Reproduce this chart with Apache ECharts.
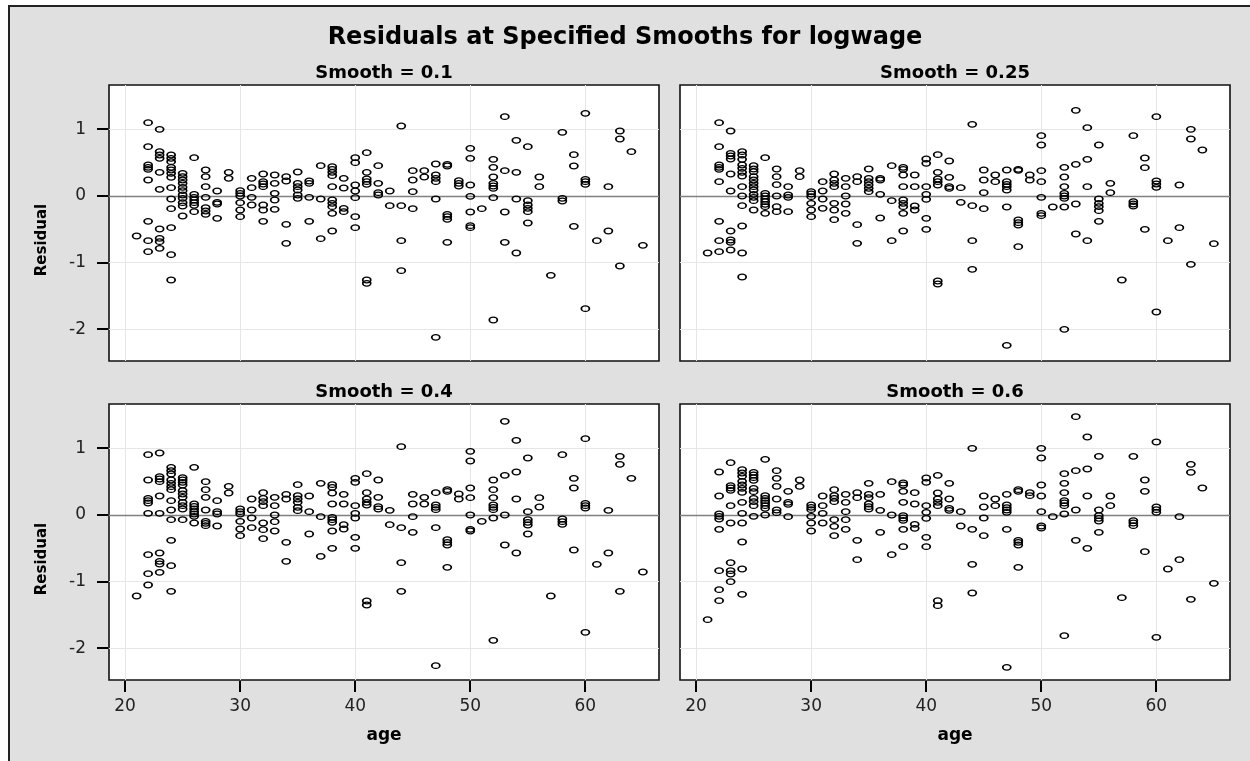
<!DOCTYPE html>
<html>
<head>
<meta charset="utf-8">
<script src="https://cdn.jsdelivr.net/npm/echarts@6/dist/echarts.min.js"></script>
<style>
html,body{margin:0;padding:0;background:#fff;overflow:hidden;}
#bg{position:absolute;left:8px;top:5px;width:1242px;height:756px;background:#e0e0e0;border-left:2px solid #222;border-top:2px solid #222;box-sizing:border-box;}
#chart{position:absolute;left:0;top:0;width:1250px;height:761px;z-index:2;}
</style>
</head>
<body>
<div id="bg"></div>
<div id="chart"></div>
<script>
const ages = [21,22,23,24,25,26,27,28,29,30,31,32,33,34,35,36,37,38,39,40,41,42,43,44,45,46,47,48,49,50,51,52,53,54,55,56,57,58,59,60,61,62,63,64,65];
const xTicks = [20, 30, 40, 50, 60];
const yTicks = [-2, -1, 0, 1];
const panelTitles = ['Smooth = 0.1', 'Smooth = 0.25', 'Smooth = 0.4', 'Smooth = 0.6'];

const res_s010 = [
[-0.60],
[1.10,0.74,0.465,0.43,0.40,0.24,-0.38,-0.67,-0.835],
[1.00,0.665,0.615,0.565,0.355,0.10,-0.495,-0.635,-0.685,-0.785],
[0.615,0.565,0.515,0.43,0.39,0.34,0.28,0.125,-0.045,-0.19,-0.475,-0.88,-1.26],
[0.34,0.29,0.24,0.19,0.13,0.08,0.015,-0.035,-0.10,-0.15,-0.30],
[0.575,0.025,-0.02,-0.06,-0.10,-0.14,-0.235],
[0.39,0.29,0.14,-0.02,-0.175,-0.225,-0.275],
[0.075,-0.095,-0.12,-0.335],
[0.355,0.265],
[0.08,0.04,0.0,-0.10,-0.21,-0.31],
[0.265,0.125,-0.02,-0.135],
[0.33,0.215,0.18,0.14,-0.135,-0.21,-0.38],
[0.315,0.19,0.04,-0.06,-0.20],
[0.29,0.225,-0.425,-0.71],
[0.36,0.19,0.14,0.09,0.015,-0.035],
[0.225,0.19,-0.02,-0.38],
[0.455,-0.045,-0.64],
[0.44,0.40,0.355,0.305,0.14,-0.06,-0.11,-0.16,-0.26,-0.525],
[0.265,0.12,-0.185,-0.235],
[0.575,0.50,0.165,0.075,-0.025,-0.31,-0.475],
[0.65,0.355,0.255,0.215,0.175,-1.26,-1.31],
[0.455,0.19,0.05,0.015],
[0.075,-0.145],
[1.05,-0.145,-0.67,-1.12],
[0.38,0.24,0.065,-0.19],
[0.38,0.285],
[0.48,0.315,0.265,0.215,-0.045,-2.12],
[0.475,0.45,-0.275,-0.31,-0.35,-0.695],
[0.23,0.19,0.15],
[0.715,0.565,0.165,-0.005,-0.24,-0.445,-0.475],
[-0.19],
[0.55,0.43,0.285,0.19,0.15,0.115,-0.025,-1.86],
[1.19,0.38,-0.24,-0.695],
[0.835,0.355,-0.045,-0.855],
[0.74,-0.07,-0.135,-0.185,-0.235,-0.405],
[0.285,0.14],
[-1.19],
[0.955,-0.035,-0.075],
[0.62,0.45,-0.455],
[1.24,0.25,0.215,0.175,-1.69],
[-0.67],
[0.14,-0.525],
[0.975,0.855,-1.05],
[0.665],
[-0.74]
];

const res_s025 = [
[-0.855],
[1.10,0.74,0.465,0.43,0.40,0.215,-0.38,-0.67,-0.835],
[0.975,0.64,0.60,0.555,0.33,0.075,-0.525,-0.66,-0.695,-0.81],
[0.665,0.615,0.55,0.465,0.415,0.355,0.30,0.14,0.0,-0.145,-0.45,-0.855,-1.215],
[0.455,0.405,0.365,0.29,0.24,0.19,0.14,0.09,0.025,-0.02,-0.07,-0.21],
[0.575,0.04,0.0,-0.045,-0.085,-0.125,-0.16,-0.26],
[0.405,0.29,0.17,0.0,-0.16,-0.235],
[0.14,0.015,-0.02,-0.235],
[0.38,0.29],
[0.065,0.03,-0.01,-0.11,-0.21,-0.31],
[0.215,0.075,-0.045,-0.185],
[0.33,0.24,0.19,0.14,-0.11,-0.21,-0.355],
[0.265,0.14,0.0,-0.12,-0.26],
[0.29,0.215,-0.43,-0.71],
[0.405,0.265,0.215,0.165,0.115,0.065],
[0.265,0.24,0.025,-0.33],
[0.455,-0.07,-0.67],
[0.43,0.40,0.315,0.14,-0.06,-0.11,-0.16,-0.26,-0.525],
[0.315,0.14,-0.15,-0.21],
[0.555,0.49,0.14,0.025,-0.05,-0.335,-0.50],
[0.62,0.355,0.255,0.215,0.165,-1.275,-1.32],
[0.525,0.28,0.14,0.115],
[0.125,-0.095],
[1.075,-0.145,-0.67,-1.10],
[0.39,0.24,0.05,-0.19],
[0.315,0.215],
[0.39,0.215,0.175,0.14,0.09,-0.165,-2.24],
[0.40,0.385,-0.36,-0.40,-0.435,-0.76],
[0.315,0.24],
[0.905,0.765,0.38,0.215,-0.02,-0.26,-0.295],
[-0.165],
[0.43,0.285,0.14,0.04,0.0,-0.035,-0.165,-2.0],
[1.285,0.475,-0.12,-0.57],
[1.025,0.55,0.14,-0.67],
[0.765,-0.045,-0.11,-0.16,-0.22,-0.38],
[0.19,0.05],
[-1.26],
[0.905,-0.085,-0.12,-0.15],
[0.57,0.425,-0.50],
[1.19,0.225,0.18,0.13,-1.74],
[-0.67],
[0.165,-0.475],
[1.0,0.855,-1.025],
[0.69],
[-0.715]
];

const res_s040 = [
[-1.215],
[0.905,0.525,0.25,0.215,0.18,0.025,-0.595,-0.88,-1.05],
[0.93,0.575,0.54,0.50,0.285,0.025,-0.57,-0.695,-0.735,-0.86],
[0.715,0.665,0.615,0.525,0.475,0.425,0.38,0.215,0.075,-0.07,-0.38,-0.76,-1.145],
[0.56,0.525,0.49,0.45,0.365,0.315,0.265,0.19,0.14,0.09,-0.07],
[0.715,0.165,0.13,0.09,0.05,0.015,-0.02,-0.12],
[0.50,0.38,0.265,0.075,-0.095,-0.125,-0.16],
[0.215,0.05,0.015,-0.165],
[0.43,0.33],
[0.09,0.05,0.015,-0.095,-0.21,-0.31],
[0.24,0.075,-0.045,-0.19],
[0.335,0.25,0.20,0.14,-0.12,-0.22,-0.355],
[0.265,0.14,0.0,-0.10,-0.24],
[0.31,0.24,-0.41,-0.695],
[0.455,0.29,0.24,0.19,0.115,0.065],
[0.285,0.05,-0.285],
[0.475,-0.025,-0.62],
[0.455,0.415,0.33,0.165,-0.035,-0.07,-0.11,-0.24,-0.50],
[0.31,0.165,-0.145,-0.21],
[0.55,0.49,0.14,0.025,-0.045,-0.335,-0.50],
[0.62,0.335,0.24,0.19,0.15,-1.29,-1.35],
[0.525,0.265,0.125,0.09],
[0.07,-0.145],
[1.025,-0.19,-0.715,-1.145],
[0.31,0.165,-0.025,-0.26],
[0.265,0.165],
[0.335,0.15,0.115,0.08,-0.19,-2.26],
[0.38,0.355,-0.37,-0.41,-0.45,-0.785],
[0.315,0.24],
[0.955,0.81,0.405,0.26,0.0,-0.215,-0.24],
[-0.095],
[0.525,0.38,0.26,0.15,0.115,0.08,-0.045,-1.88],
[1.405,0.595,0.0,-0.45],
[1.12,0.645,0.24,-0.57],
[0.855,0.05,-0.07,-0.11,-0.15,-0.285],
[0.26,0.12],
[-1.215],
[0.905,-0.06,-0.10,-0.14],
[0.55,0.405,-0.525],
[1.145,0.175,0.14,0.105,-1.76],
[-0.74],
[0.07,-0.57],
[0.88,0.76,-1.145],
[0.55],
[-0.855]
];

const res_s060 = [
[-1.57],
[0.645,0.285,0.015,-0.02,-0.06,-0.215,-0.835,-1.12,-1.285],
[0.785,0.44,0.405,0.37,0.14,-0.12,-0.715,-0.835,-0.885,-1.0],
[0.68,0.63,0.58,0.505,0.45,0.40,0.34,0.19,0.025,-0.12,-0.405,-0.81,-1.19],
[0.64,0.60,0.56,0.52,0.40,0.35,0.25,0.20,0.14,-0.02],
[0.835,0.29,0.25,0.215,0.18,0.14,0.10,0.0],
[0.665,0.55,0.43,0.24,0.075,0.035],
[0.355,0.19,0.16,-0.025],
[0.525,0.43],
[0.15,0.115,0.08,-0.02,-0.12,-0.24],
[0.285,0.14,0.025,-0.12],
[0.38,0.29,0.25,0.20,-0.07,-0.17,-0.31],
[0.31,0.19,0.05,-0.07,-0.215],
[0.335,0.26,-0.38,-0.67],
[0.475,0.31,0.26,0.165,0.125,0.09],
[0.31,0.07,-0.26],
[0.50,0.0,-0.595],
[0.48,0.45,0.355,0.19,-0.01,-0.045,-0.08,-0.215,-0.475],
[0.335,0.165,-0.14,-0.20],
[0.555,0.49,0.14,0.04,-0.05,-0.335,-0.475],
[0.595,0.33,0.24,0.19,0.14,-1.285,-1.36],
[0.475,0.24,0.10,0.07],
[0.05,-0.165],
[1.0,-0.215,-0.74,-1.17],
[0.285,0.12,-0.045,-0.31],
[0.24,0.14],
[0.31,0.15,0.11,0.075,0.04,-0.215,-2.285],
[0.38,0.355,-0.38,-0.41,-0.45,-0.785],
[0.335,0.29],
[1.0,0.855,0.45,0.285,0.05,-0.165,-0.195],
[-0.025],
[0.62,0.475,0.335,0.215,0.18,0.14,0.015,-1.81],
[1.475,0.665,0.075,-0.38],
[1.17,0.69,0.285,-0.50],
[0.88,0.075,-0.01,-0.05,-0.09,-0.26],
[0.285,0.14],
[-1.24],
[0.88,-0.085,-0.12,-0.16],
[0.525,0.355,-0.55],
[1.095,0.12,0.08,0.04,-1.835],
[-0.81],
[-0.025,-0.67],
[0.76,0.64,-1.265],
[0.405],
[-1.025]
];

const panels = [res_s010, res_s025, res_s040, res_s060];
const X_MIN = 18.6, X_MAX = 66.4, Y_MIN = -2.475, Y_MAX = 1.665;

function toPoints(res) {
  const pts = [];
  res.forEach((vals, i) => vals.forEach(v => pts.push([ages[i], v])));
  return pts;
}

const gridPos = [
  {left: 109, top: 85},
  {left: 680, top: 85},
  {left: 109, top: 404},
  {left: 680, top: 404}
];
const FONT = '"DejaVu Sans", sans-serif';
const TICK_LEN = 11;

function label(text, x, y, size, rot) {
  return {type: 'text', x: x, y: y, rotation: rot || 0, z: 100,
    style: {text: text, font: 'bold ' + size + 'px ' + FONT, fill: '#000', textAlign: 'center', textVerticalAlign: 'middle'}};
}

function gridLines() {
  return {
    silent: true, symbol: ['none', 'none'], label: {show: false}, z: 1,
    lineStyle: {color: '#e6e6e6', width: 1, type: 'solid'},
    data: xTicks.map(v => ({xAxis: v})).concat(yTicks.filter(v => v !== 0).map(v => ({yAxis: v})))
  };
}

const series = [];
panels.forEach((res, i) => {
  series.push({type: 'line', xAxisIndex: i, yAxisIndex: i, data: [], silent: true, z: 1, markLine: gridLines()});
});
panels.forEach((res, i) => {
  series.push({
    type: 'scatter', xAxisIndex: i, yAxisIndex: i, z: 5,
    data: toPoints(res),
    symbol: 'circle', symbolSize: [8, 5.6],
    itemStyle: {color: 'rgba(0,0,0,0)', borderColor: '#000', borderWidth: 1.5, opacity: 1},
    emphasis: {disabled: true},
    markLine: {
      silent: true, symbol: ['none', 'none'], label: {show: false},
      lineStyle: {color: '#808080', width: 1.3, type: 'solid'},
      data: [{yAxis: 0}]
    }
  });
});

const baseGraphic = [
  label('Residuals at Specified Smooths for logwage', 625, 38, 24),
  label(panelTitles[0], 384, 73, 18),
  label(panelTitles[1], 955, 73, 18),
  label(panelTitles[2], 384, 392, 18),
  label(panelTitles[3], 955, 392, 18),
  label('Residual', 42, 240, 15, Math.PI / 2),
  label('Residual', 42, 559, 15, Math.PI / 2)
];

const option = {
  animation: false,
  backgroundColor: 'transparent',
  graphic: baseGraphic,
  grid: gridPos.map(g => ({
    left: g.left, top: g.top, width: 550, height: 276,
    show: true, backgroundColor: '#fff', borderColor: '#111', borderWidth: 1.6
  })),
  xAxis: gridPos.map((g, i) => {
    const bottom = i >= 2;
    return {
      type: 'value', gridIndex: i, min: X_MIN, max: X_MAX, position: 'bottom',
      name: bottom ? 'age' : '', nameLocation: 'middle', nameGap: 47,
      nameTextStyle: {fontFamily: FONT, fontWeight: 'bold', fontSize: 17, color: '#000'},
      axisLine: {show: false, onZero: false},
      axisTick: {show: false},
      axisLabel: {show: bottom, customValues: xTicks, margin: 18, fontFamily: FONT, fontSize: 17, color: '#222'},
      splitLine: {show: false}
    };
  }),
  yAxis: gridPos.map((g, i) => {
    const left = i % 2 === 0;
    return {
      type: 'value', gridIndex: i, min: Y_MIN, max: Y_MAX, position: 'left',
      axisLine: {show: false, onZero: false},
      axisTick: {show: false},
      axisLabel: {show: left, customValues: yTicks, margin: 23, fontFamily: FONT, fontSize: 17, color: '#222'},
      splitLine: {show: false}
    };
  }),
  series: series
};

const chart = echarts.init(document.getElementById('chart'), null, {renderer: 'canvas'});
chart.setOption(option);

// Outer tick marks drawn as tick-glyph text-free bars from the axes' own scales
const tickGraphic = [];
[2, 3].forEach(i => xTicks.forEach(v => {
  const p = chart.convertToPixel({gridIndex: i}, [v, Y_MIN]);
  tickGraphic.push({type: 'rect', z: 200, zlevel: 0,
    shape: {x: Math.round(p[0]) - 1, y: Math.round(p[1]) + 1, width: 2, height: TICK_LEN},
    style: {fill: '#000', stroke: null}});
}));
[0, 2].forEach(i => yTicks.forEach(v => {
  const p = chart.convertToPixel({gridIndex: i}, [X_MIN, v]);
  tickGraphic.push({type: 'rect', z: 200, zlevel: 0,
    shape: {x: Math.round(p[0]) - TICK_LEN - 1, y: Math.round(p[1]) - 1, width: TICK_LEN, height: 2},
    style: {fill: '#000', stroke: null}});
}));
chart.setOption({graphic: {elements: baseGraphic.concat(tickGraphic)}}, {replaceMerge: ['graphic']});
</script>
</body>
</html>
